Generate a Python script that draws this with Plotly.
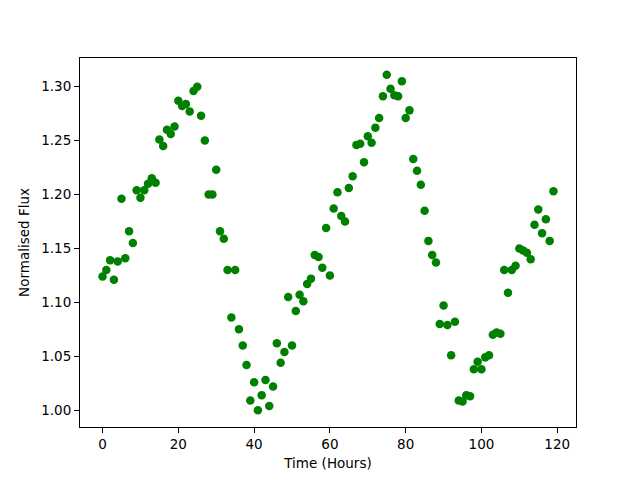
import plotly.graph_objects as go

hours = list(range(120))
flux = [
    1.124, 1.130, 1.139, 1.121, 1.138, 1.196, 1.141, 1.166, 1.155, 1.204,
    1.197, 1.204, 1.210, 1.215, 1.211, 1.251, 1.245, 1.260, 1.256, 1.263,
    1.287, 1.282, 1.284, 1.277, 1.296, 1.300, 1.273, 1.250, 1.200, 1.200,
    1.223, 1.166, 1.159, 1.130, 1.086, 1.130, 1.075, 1.060, 1.042, 1.009,
    1.026, 1.000, 1.014, 1.028, 1.004, 1.022, 1.062, 1.044, 1.054, 1.105,
    1.060, 1.092, 1.107, 1.101, 1.117, 1.122, 1.144, 1.142, 1.132, 1.169,
    1.125, 1.187, 1.202, 1.180, 1.175, 1.206, 1.217, 1.246, 1.247, 1.230,
    1.254, 1.248, 1.262, 1.271, 1.291, 1.311, 1.298, 1.292, 1.291, 1.305,
    1.271, 1.278, 1.233, 1.222, 1.209, 1.185, 1.157, 1.144, 1.137, 1.080,
    1.097, 1.079, 1.051, 1.082, 1.009, 1.008, 1.014, 1.013, 1.038, 1.045,
    1.038, 1.049, 1.051, 1.070, 1.072, 1.071, 1.130, 1.109, 1.130, 1.134,
    1.150, 1.148, 1.146, 1.140, 1.172, 1.186, 1.164, 1.177, 1.157, 1.203,
]
x_ticks = [0, 20, 40, 60, 80, 100, 120]
y_ticks = [1.00, 1.05, 1.10, 1.15, 1.20, 1.25, 1.30]

font = "DejaVu Sans"
fig = go.Figure(go.Scatter(
    x=hours, y=flux, mode="markers",
    marker=dict(color="#008000", size=8.5, line=dict(width=0)),
))

axis_common = dict(
    showgrid=False, zeroline=False, showline=True, linecolor="black", linewidth=1,
    mirror=True, ticks="outside", ticklen=5, tickwidth=1, tickcolor="black",
    tickfont=dict(family=font, size=13.5, color="black"),
)

xmin, xmax = min(hours), max(hours)
ymin, ymax = min(flux), max(flux)
xpad = 0.05 * (xmax - xmin)
ypad = 0.05 * (ymax - ymin)

fig.update_xaxes(range=[xmin - xpad, xmax + xpad], tickvals=x_ticks,
                 title=dict(text="Time (Hours)", font=dict(family=font, size=13.5, color="black"), standoff=7),
                 **axis_common)
fig.update_yaxes(range=[ymin - ypad, ymax + ypad], tickvals=y_ticks, tickformat=".2f",
                 title=dict(text="Normalised Flux", font=dict(family=font, size=13.5, color="black"), standoff=8),
                 **axis_common)

# page body has an 8px default margin, so the figure is 8px smaller and margins compensate
fig.update_layout(
    width=632, height=472,
    margin=dict(l=72, r=64, t=50, b=53, autoexpand=False),
    plot_bgcolor="white", paper_bgcolor="white",
    showlegend=False,
)
fig.write_html("out.html")
